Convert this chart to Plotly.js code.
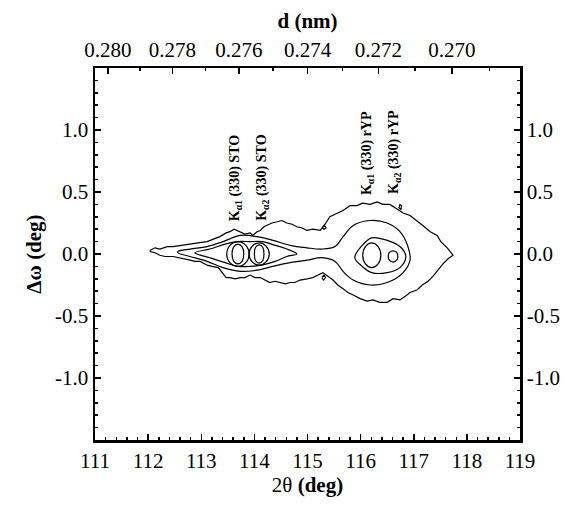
<!DOCTYPE html>
<html><head><meta charset="utf-8">
<script src="https://cdn.plot.ly/plotly-3.0.1.min.js"></script>
<style>html,body{margin:0;padding:0;background:#fff}#chart{width:574px;height:506px}</style>
</head><body><div id="chart"></div>
<script>
// ---- data (2θ in deg, Δω in deg) ----
const outerContour = [[112.04,0.03],[112.13,0.05],[112.22,0.04],[112.36,0.06],[112.47,0.06],[112.60,0.07],[112.79,0.08],[112.94,0.09],[113.11,0.10],[113.24,0.12],[113.35,0.14],[113.47,0.17],[113.54,0.18],[113.62,0.20],[113.67,0.19],[113.75,0.18],[113.82,0.16],[113.92,0.17],[113.97,0.15],[114.05,0.18],[114.11,0.19],[114.18,0.22],[114.24,0.23],[114.33,0.25],[114.43,0.26],[114.52,0.27],[114.61,0.25],[114.71,0.24],[114.80,0.22],[114.90,0.21],[114.99,0.19],[115.10,0.20],[115.24,0.19],[115.33,0.24],[115.42,0.30],[115.56,0.33],[115.67,0.35],[115.80,0.39],[115.93,0.39],[116.04,0.41],[116.18,0.40],[116.31,0.42],[116.42,0.40],[116.55,0.40],[116.68,0.36],[116.80,0.33],[116.93,0.31],[117.06,0.27],[117.17,0.23],[117.31,0.18],[117.44,0.15],[117.51,0.10],[117.63,0.05],[117.74,-0.01],[117.64,-0.04],[117.55,-0.08],[117.46,-0.13],[117.36,-0.18],[117.27,-0.22],[117.16,-0.25],[117.06,-0.29],[116.93,-0.31],[116.84,-0.34],[116.74,-0.37],[116.61,-0.36],[116.50,-0.39],[116.36,-0.39],[116.23,-0.37],[116.12,-0.38],[115.99,-0.36],[115.86,-0.33],[115.76,-0.31],[115.67,-0.28],[115.57,-0.25],[115.48,-0.21],[115.39,-0.18],[115.29,-0.15],[115.20,-0.17],[115.10,-0.19],[114.99,-0.20],[114.86,-0.21],[114.76,-0.23],[114.67,-0.23],[114.58,-0.24],[114.48,-0.23],[114.39,-0.22],[114.29,-0.23],[114.20,-0.21],[114.11,-0.19],[114.01,-0.19],[113.92,-0.17],[113.82,-0.19],[113.73,-0.19],[113.64,-0.20],[113.54,-0.19],[113.47,-0.19],[113.39,-0.15],[113.32,-0.11],[113.20,-0.10],[113.11,-0.09],[112.98,-0.06],[112.88,-0.06],[112.79,-0.05],[112.66,-0.04],[112.47,-0.02],[112.32,-0.02],[112.22,-0.01],[112.13,0.01],[112.04,0.02],[112.04,0.03]];
const level2Contour = [[112.56,0.02],[112.79,0.04],[113.11,0.06],[113.41,0.10],[113.73,0.15],[114.05,0.14],[114.35,0.11],[114.67,0.07],[114.99,0.05],[115.27,0.04],[115.52,0.06],[115.67,0.14],[115.86,0.23],[116.18,0.27],[116.50,0.25],[116.74,0.18],[116.89,0.06],[116.93,-0.05],[116.80,-0.15],[116.50,-0.23],[116.18,-0.25],[115.86,-0.21],[115.67,-0.14],[115.52,-0.06],[115.27,-0.03],[114.99,-0.05],[114.67,-0.07],[114.35,-0.10],[114.05,-0.13],[113.73,-0.14],[113.41,-0.11],[113.11,-0.06],[112.79,-0.02],[112.56,0.01],[112.56,0.02]];
const stoLevel3 = [[112.88,0.01],[113.16,0.04],[113.45,0.08],[113.69,0.10],[113.92,0.10],[114.14,0.10],[114.39,0.07],[114.61,0.04],[114.80,0.00],[114.61,-0.02],[114.39,-0.06],[114.14,-0.09],[113.92,-0.10],[113.69,-0.10],[113.45,-0.07],[113.16,-0.03],[112.88,0.01]];
const stoKa1Outer = [[113.90,0],[113.84,0.07],[113.69,0.10],[113.54,0.07],[113.48,0],[113.54,-0.07],[113.69,-0.10],[113.84,-0.07],[113.90,0]];
const stoKa1Inner = [[113.80,0],[113.77,0.057],[113.69,0.08],[113.61,0.057],[113.58,0],[113.61,-0.057],[113.69,-0.08],[113.77,-0.057],[113.80,0]];
const stoKa2Outer = [[114.28,0],[114.22,0.064],[114.09,0.09],[113.96,0.064],[113.90,0],[113.96,-0.064],[114.09,-0.09],[114.22,-0.064],[114.28,0]];
const stoKa2Inner = [[114.18,0],[114.16,0.052],[114.09,0.073],[114.02,0.052],[114.00,0],[114.02,-0.052],[114.09,-0.073],[114.16,-0.052],[114.18,0]];
const rypLevel3 = [[115.89,-0.03],[116.03,0.07],[116.21,0.13],[116.50,0.11],[116.74,0.06],[116.85,-0.02],[116.74,-0.11],[116.50,-0.15],[116.21,-0.15],[116.03,-0.10],[115.89,-0.03]];
const rypKa1Inner = [[116.38,-0.01],[116.33,0.06],[116.21,0.09],[116.09,0.06],[116.04,-0.01],[116.09,-0.08],[116.21,-0.11],[116.33,-0.08],[116.38,-0.01]];
const rypKa2Inner = [[116.70,-0.02],[116.68,0.012],[116.61,0.025],[116.54,0.012],[116.52,-0.02],[116.54,-0.05],[116.61,-0.065],[116.68,-0.05],[116.70,-0.02]];
// small isolated fragments of the lowest level
const islandA = [[116.72,0.37],[116.74,0.40],[116.77,0.39],[116.76,0.36],[116.72,0.37]];
const islandB = [[115.28,0.21],[115.32,0.23],[115.35,0.21],[115.31,0.20],[115.28,0.21]];
const islandC = [[115.27,-0.19],[115.31,-0.17],[115.34,-0.19],[115.30,-0.21],[115.27,-0.19]];

const xTicks = [111,112,113,114,115,116,117,118,119];
const yTicks = [-1.0,-0.5,0.0,0.5,1.0];
const yTickText = ["-1.0","-0.5","0.0","0.5","1.0"];
const dTicks = [0.280,0.278,0.276,0.274,0.272,0.270];
const dTickText = ["0.280","0.278","0.276","0.274","0.272","0.270"];
const dMinor = [0.279,0.277,0.275,0.273,0.271,0.269];
const peakLabels = [
  {x:113.64, y:0.25, text:"K<sub>α1</sub> (330) STO"},
  {x:114.14, y:0.25, text:"K<sub>α2</sub> (330) STO"},
  {x:116.14, y:0.46, text:"K<sub>α1</sub> (330) rYP"},
  {x:116.65, y:0.47, text:"K<sub>α2</sub> (330) rYP"}
];

// Bragg conversion for top axis (d shown = 3·d330, Cu Kα1)
const LAMBDA = 0.15406;
const dTo2Theta = d => 2*Math.asin(3*LAMBDA/(2*d))*180/Math.PI;

const smooth = [level2Contour, stoLevel3, stoKa1Outer, stoKa1Inner, stoKa2Outer, stoKa2Inner, rypLevel3, rypKa1Inner, rypKa2Inner];
const rough = [outerContour, islandA, islandB, islandC];
const traces = [];
rough.forEach(c => traces.push({x: c.map(p=>p[0]), y: c.map(p=>p[1]), mode:'lines', line:{color:'#000', width:1.2}, hoverinfo:'skip', showlegend:false}));
smooth.forEach(c => traces.push({x: c.map(p=>p[0]), y: c.map(p=>p[1]), mode:'lines', line:{color:'#000', width:1.2, shape:'spline', smoothing:1}, hoverinfo:'skip', showlegend:false}));
traces.push({x:[115], y:[0], xaxis:'x2', yaxis:'y2', mode:'markers', marker:{opacity:0}, hoverinfo:'skip', showlegend:false});

const serif = '"Liberation Serif", "Times New Roman", serif';
const tickFont = {family:serif, size:21, color:'#000'};
const titleFont = {family:serif, size:21, color:'#000'};

const layout = {
  width:574, height:506,
  margin:{l:95, r:54, t:68, b:66},
  paper_bgcolor:'#fff', plot_bgcolor:'#fff',
  showlegend:false,
  xaxis:{range:[111,119], tickmode:'array', tickvals:xTicks, ticktext:xTicks.map(String),
    ticks:'inside', ticklen:6, tickwidth:1.5, tickcolor:'#000',
    minor:{dtick:0.2, tick0:111, ticks:'inside', ticklen:3, tickwidth:1.5, tickcolor:'#000'},
    showline:true, linecolor:'#000', linewidth:2.5, showgrid:false, zeroline:false,
    tickfont:tickFont, title:{text:'2θ <b>(deg)</b>', font:titleFont, standoff:4}},
  xaxis2:{range:[111,119], overlaying:'x', side:'top', tickmode:'array',
    tickvals:dTicks.map(dTo2Theta), ticktext:dTickText,
    ticks:'inside', ticklen:6, tickwidth:1.5, tickcolor:'#000',
    minor:{tickmode:'array', tickvals:dMinor.map(dTo2Theta), ticks:'inside', ticklen:3, tickwidth:1.5, tickcolor:'#000'},
    showline:true, linecolor:'#000', linewidth:2.5, showgrid:false, zeroline:false,
    tickfont:tickFont, title:{text:'<b>d (nm)</b>', font:titleFont, standoff:4}},
  yaxis:{range:[-1.5,1.5], tickmode:'array', tickvals:yTicks, ticktext:yTickText,
    ticks:'inside', ticklen:6, tickwidth:1.5, tickcolor:'#000',
    minor:{dtick:0.1, tick0:0, ticks:'inside', ticklen:3, tickwidth:1.5, tickcolor:'#000'},
    showline:true, linecolor:'#000', linewidth:2.5, showgrid:false, zeroline:false,
    tickfont:tickFont, title:{text:'<b>Δω (deg)</b>', font:titleFont, standoff:8}},
  yaxis2:{range:[-1.5,1.5], overlaying:'y', side:'right', tickmode:'array', tickvals:yTicks, ticktext:yTickText,
    ticks:'inside', ticklen:6, tickwidth:1.5, tickcolor:'#000',
    minor:{dtick:0.1, tick0:0, ticks:'inside', ticklen:3, tickwidth:1.5, tickcolor:'#000'},
    showline:true, linecolor:'#000', linewidth:2.5, showgrid:false, zeroline:false,
    tickfont:tickFont},
  annotations: peakLabels.map(l => ({x:l.x, y:l.y, xref:'x', yref:'y', text:'<b>'+l.text+'</b>', textangle:-90,
    showarrow:false, xanchor:'center', yanchor:'bottom',
    font:{family:serif, size:14, color:'#000'}}))
};

Plotly.newPlot('chart', traces, layout, {staticPlot:true, displayModeBar:false});
</script></body></html>
